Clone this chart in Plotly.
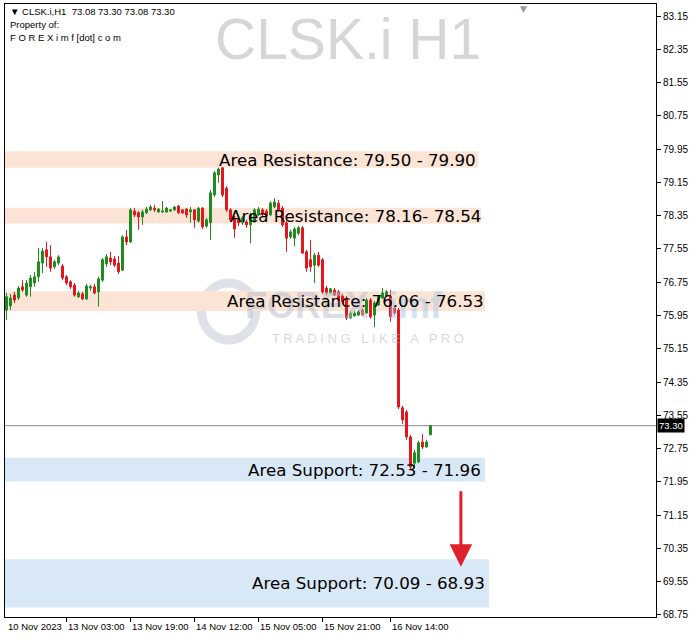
import plotly.graph_objects as go

# ---------------- data ----------------
OPEN = [76.08,76.18,76.44,76.37,76.64,76.44,76.64,76.73,76.88,77.21,
        77.53,77.36,77.12,77.21,77.14,76.88,76.76,76.68,76.40,76.47,
        76.35,76.61,76.64,76.52,76.80,77.19,77.33,77.31,77.21,77.04,
        77.84,77.72,78.46,78.42,78.32,78.42,78.49,78.53,78.44,78.44,
        78.44,78.46,78.49,78.58,78.49,78.51,78.44,78.49,78.22,78.53,
        78.10,78.18,78.85,79.33,79.50,79.01,78.49,78.30,78.25,78.18,
        78.20,78.13,78.20,78.37,78.49,78.46,78.37,78.56,78.65,78.53,
        78.18,77.84,77.81,77.93,78.06,77.48,77.29,77.16,77.40,77.29,
        76.61,76.49,76.56,76.52,76.42,76.37,75.89,75.94,75.96,76.08,
        76.01,76.32,75.96,76.20,76.37,76.42,76.40,76.13,76.08,73.73,
        73.63,73.03,72.40,72.43,72.91,72.79,73.08]
HIGH = [76.49,76.47,76.52,76.66,76.80,76.80,76.92,77.00,77.57,77.57,
        77.72,77.64,77.29,77.40,77.19,76.92,76.80,76.73,76.54,76.52,
        76.71,76.68,76.71,76.88,77.33,77.43,77.48,77.38,77.38,77.88,
        78.01,78.53,78.53,78.46,78.49,78.56,78.61,78.61,78.53,78.70,
        78.56,78.51,78.58,78.61,78.51,78.53,78.56,78.51,78.56,78.56,
        78.30,78.97,79.42,79.50,79.52,79.06,78.53,78.34,78.30,78.34,
        78.25,78.42,78.53,78.56,78.53,78.51,78.70,78.77,78.73,78.58,
        78.22,78.01,78.08,78.10,78.10,77.53,77.77,77.45,77.48,77.33,
        76.66,76.61,76.61,76.56,76.47,76.42,76.06,76.06,76.08,76.13,
        76.37,76.37,76.30,76.44,76.61,76.56,76.56,76.18,76.13,73.78,
        73.68,73.08,72.72,72.94,73.10,72.96,73.30]
LOW = [75.84,76.08,76.25,76.32,76.52,76.40,76.40,76.64,76.76,76.97,
       77.12,77.00,77.07,77.16,76.80,76.68,76.59,76.40,76.37,76.32,
       76.32,76.54,76.47,76.16,76.76,77.12,77.16,77.12,76.95,77.02,
       77.64,77.69,78.32,78.01,78.13,78.39,78.46,78.44,78.42,78.42,
       78.42,78.44,78.46,78.39,78.39,78.30,78.18,78.06,78.18,78.03,
       78.06,77.77,78.80,79.14,78.80,78.44,78.20,77.82,78.10,78.13,
       78.06,77.69,78.18,78.34,78.34,78.32,78.34,78.53,78.44,78.08,
       77.48,77.79,77.62,77.88,77.43,77.00,77.00,76.73,77.12,76.47,
       76.44,76.47,76.42,76.28,76.23,75.84,75.87,75.92,75.94,75.94,
       75.99,75.87,75.67,76.18,76.35,76.40,75.80,75.96,73.70,73.34,
       72.96,72.26,72.29,72.40,72.74,72.77,73.08]
CLOSE = [76.40,76.37,76.32,76.61,76.56,76.73,76.85,76.88,77.24,77.50,
         77.36,77.09,77.24,77.36,76.85,76.73,76.64,76.44,76.49,76.35,
         76.66,76.64,76.49,76.83,77.29,77.36,77.24,77.16,77.00,77.84,
         77.72,78.49,78.37,78.32,78.44,78.51,78.56,78.49,78.51,78.46,
         78.53,78.49,78.56,78.42,78.42,78.37,78.49,78.25,78.53,78.08,
         78.25,78.90,79.38,79.47,78.85,78.49,78.25,78.03,78.18,78.30,
         78.13,78.37,78.49,78.51,78.39,78.34,78.65,78.68,78.49,78.13,
         77.81,77.96,78.03,78.06,77.45,77.09,77.12,77.40,77.16,76.52,
         76.49,76.59,76.44,76.32,76.28,75.89,76.01,76.01,76.04,75.96,
         76.32,75.92,76.25,76.40,76.49,76.52,75.92,76.01,73.75,73.44,
         73.03,72.31,72.65,72.89,72.79,72.91,73.30]

TIME_LABELS = ["10 Nov 2023", "13 Nov 03:00", "13 Nov 19:00", "14 Nov 12:00",
               "15 Nov 05:00", "15 Nov 21:00", "16 Nov 14:00"]
TIME_LABEL_BARS = [0, 15, 31, 47, 63, 79, 96]

PRICE_TICKS = [83.15, 82.35, 81.55, 80.75, 79.95, 79.15, 78.35, 77.55, 76.75,
               75.95, 75.15, 74.35, 73.55, 72.75, 71.95, 71.15, 70.35, 69.55, 68.75]
PRICE_TICK_TEXT = ["%.2f" % v for v in PRICE_TICKS]

ZONE_KIND = ["Resistance", "Resistance", "Resistance", "Support", "Support"]
ZONE_LOW = [79.50, 78.16, 76.06, 71.96, 68.93]
ZONE_HIGH = [79.90, 78.54, 76.53, 72.53, 70.09]
ZONE_TEXT = ["Area Resistance: 79.50 - 79.90",
             "Area Resistance: 78.16- 78.54",
             "Area Resistance: 76.06 - 76.53",
             "Area Support: 72.53 - 71.96",
             "Area Support: 70.09 - 68.93"]

SYMBOL = "CLSK.i"
TIMEFRAME = "H1"
LAST_OHLC = [73.08, 73.30, 73.08, 73.30]
LAST_PRICE = 73.30
ARROW_FROM = 71.76
ARROW_TO = 69.91

# ---------------- layout helpers (positions / styles) ----------------
X_MIN, X_MAX = -0.375, 162.375
Y_MIN, Y_MAX = 68.70, 83.44
ZONE_END = [117.9, 118.6, 119.6, 119.6, 120.6]
TEXT_START = [52.6, 55.4, 54.6, 59.9, 60.9]
ZONE_COLOR = {"Resistance": "#fbe4d5", "Support": "#d9e8f7"}
ARROW_BAR = 113.6

bars = list(range(len(OPEN)))

fig = go.Figure()
fig.add_trace(go.Candlestick(
    x=bars, open=OPEN, high=HIGH, low=LOW, close=CLOSE,
    increasing=dict(line=dict(color="#1e8c1e", width=1), fillcolor="#1e8c1e"),
    decreasing=dict(line=dict(color="#e3161d", width=1), fillcolor="#e3161d"),
    whiskerwidth=0, showlegend=False, hoverinfo="skip",
))

shapes = []
annotations = []

# watermark ring of the logo (drawn below everything)
shapes.append(dict(type="circle", xref="paper", yref="paper",
                   x0=0.302, x1=0.385, y0=0.452, y1=0.545,
                   line=dict(color="rgba(195,200,214,0.55)", width=9), layer="below"))

# support / resistance zones
for k in range(len(ZONE_LOW)):
    shapes.append(dict(type="rect", xref="x", yref="y", x0=X_MIN, x1=ZONE_END[k],
                       y0=ZONE_LOW[k], y1=ZONE_HIGH[k], line=dict(width=0),
                       fillcolor=ZONE_COLOR[ZONE_KIND[k]], layer="below"))

# current price line
shapes.append(dict(type="line", xref="paper", yref="y", x0=0, x1=1,
                   y0=LAST_PRICE, y1=LAST_PRICE,
                   line=dict(color="#8a8a8a", width=1), layer="below"))

# big symbol watermark
annotations.append(dict(xref="paper", yref="paper", x=0.527, y=0.943,
                        text=f"{SYMBOL} {TIMEFRAME}", showarrow=False,
                        xanchor="center", yanchor="middle",
                        font=dict(family="Liberation Sans", size=57, color="#d6d6d6")))

# logo text watermark
annotations.append(dict(xref="paper", yref="paper", x=0.365, y=0.508,
                        text="<b>FOREX</b>", showarrow=False, xanchor="left",
                        yanchor="middle",
                        font=dict(family="Liberation Sans", size=36,
                                  color="rgba(180,188,206,0.5)")))
annotations.append(dict(xref="paper", yref="paper", x=0.585, y=0.508,
                        text="<b>imf</b>", showarrow=False, xanchor="left",
                        yanchor="middle",
                        font=dict(family="Liberation Sans", size=36,
                                  color="rgba(165,198,232,0.5)")))
annotations.append(dict(xref="paper", yref="paper", x=0.407, y=0.454,
                        text="T R A D I N G   L I K E   A   P R O", showarrow=False,
                        xanchor="left", yanchor="middle",
                        font=dict(family="Liberation Sans", size=13,
                                  color="rgba(185,190,200,0.6)")))

# zone labels (above the watermark)
for k in range(len(ZONE_LOW)):
    annotations.append(dict(xref="x", yref="y", x=TEXT_START[k],
                            y=(ZONE_LOW[k] + ZONE_HIGH[k]) / 2,
                            text=ZONE_TEXT[k], showarrow=False, xanchor="left",
                            yanchor="middle",
                            font=dict(family="DejaVu Sans", size=16.7, color="#000000")))

# header text (top-left)
header = [f"▼ {SYMBOL},{TIMEFRAME}  " + " ".join("%.2f" % v for v in LAST_OHLC),
          "Property of:",
          "F O R E X i m f [dot] c o m"]
header_y = [0.987, 0.967, 0.946]
for txt, yy in zip(header, header_y):
    annotations.append(dict(xref="paper", yref="paper", x=0.004, y=yy, text=txt,
                            showarrow=False, xanchor="left", yanchor="middle",
                            font=dict(family="Liberation Sans", size=9.5, color="#000000")))

# chart-shift marker
annotations.append(dict(xref="paper", yref="paper", x=0.796, y=1.0, text="▼",
                        showarrow=False, xanchor="center", yanchor="top", yshift=2,
                        font=dict(family="DejaVu Sans", size=9, color="#8e9cb3")))

# time labels (left aligned at tick)
for lab, b in zip(TIME_LABELS, TIME_LABEL_BARS):
    annotations.append(dict(xref="x", yref="paper", x=b, y=0, text=lab,
                            showarrow=False, xanchor="left", yanchor="top",
                            yshift=-2, xshift=-1,
                            font=dict(family="Liberation Sans", size=9.5, color="#000000")))

# last price box
annotations.append(dict(xref="paper", yref="y", x=1, y=LAST_PRICE,
                        text="%.2f" % LAST_PRICE, showarrow=False, xanchor="left",
                        yanchor="middle", xshift=1, bgcolor="#000000", borderpad=1,
                        font=dict(family="Liberation Sans", size=9.5, color="#ffffff")))

# red forecast arrow
annotations.append(dict(xref="x", yref="y", x=ARROW_BAR, y=ARROW_TO,
                        ax=ARROW_BAR, ay=ARROW_FROM, axref="x", ayref="y",
                        text="", showarrow=True, arrowhead=2, arrowsize=1.5,
                        arrowwidth=3, arrowcolor="#e0202a"))

fig.update_layout(
    width=698, height=640,
    margin=dict(l=5, r=42, t=4, b=23, autoexpand=False),
    paper_bgcolor="#ffffff", plot_bgcolor="#ffffff",
    showlegend=False, boxgap=0.3,
    shapes=shapes, annotations=annotations,
    xaxis=dict(range=[X_MIN, X_MAX], showgrid=False, zeroline=False,
               rangeslider=dict(visible=False),
               tickmode="array", tickvals=TIME_LABEL_BARS[1:], showticklabels=False,
               ticks="outside", ticklen=4, tickcolor="#000000",
               showline=True, linecolor="#000000", linewidth=1, mirror=True),
    yaxis=dict(range=[Y_MIN, Y_MAX], side="right", showgrid=False, zeroline=False,
               tickmode="array", tickvals=PRICE_TICKS, ticktext=PRICE_TICK_TEXT,
               ticks="outside", ticklen=4, tickcolor="#000000",
               tickfont=dict(family="Liberation Sans", size=10, color="#000000"),
               showline=True, linecolor="#000000", linewidth=1, mirror=True),
)

fig.write_html("out.html", config={"displayModeBar": False},
               post_script="document.body.style.margin='0';document.body.style.padding='0';")
